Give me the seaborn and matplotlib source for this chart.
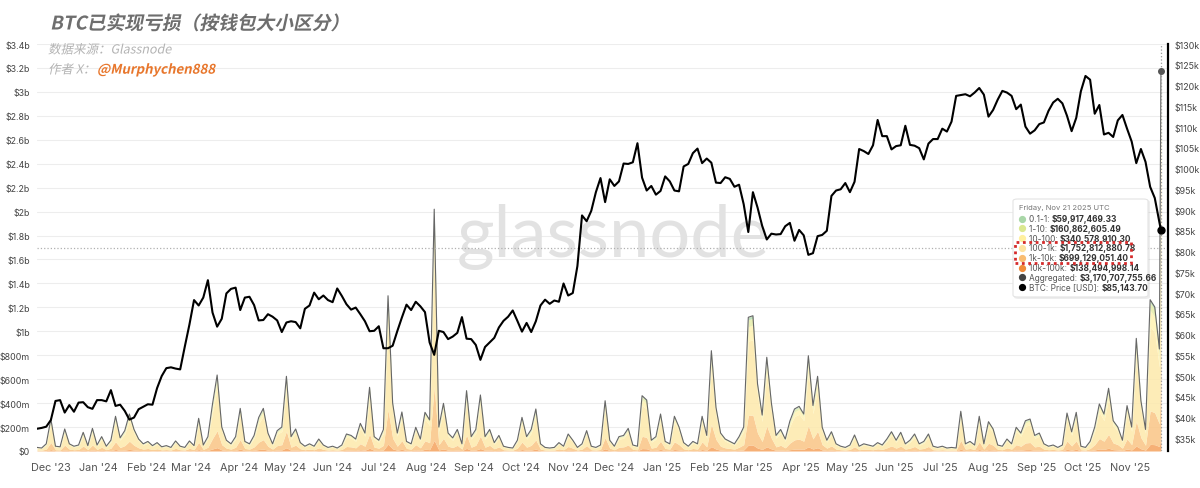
import pandas as pd
import matplotlib
matplotlib.use('Agg')
import matplotlib.pyplot as plt
import matplotlib.dates as mdates
import matplotlib.patheffects as pe
from matplotlib.patches import FancyBboxPatch, Rectangle
from matplotlib.lines import Line2D
from matplotlib.text import Annotation
from matplotlib.transforms import Affine2D
from matplotlib.ticker import FuncFormatter, MultipleLocator
import seaborn as sns

# --- data (3-day steps, last point = Nov 21 2025) ---
dates = list(pd.date_range('2023-11-22', '2025-11-20', freq='3D')) + [pd.Timestamp('2025-11-21')]

# BTC price, USD thousands
btc_price_k = [
    37.3, 37.5, 37.8,
    39.4, 44.0, 44.2, 41.2, 43.0, 41.4, 43.6, 43.7, 42.5, 42.1,
    44.2, 44.2, 43.9, 46.6, 42.8, 43.1, 41.6, 39.5, 40.0, 42.0, 42.6,
    43.2, 43.1, 47.1, 50.0, 51.9, 52.1, 51.8, 51.6, 57.1,
    62.4, 68.3, 67.0, 68.9, 73.1, 65.3, 61.9, 63.8, 69.9, 71.0, 71.3,
    65.9, 68.9, 69.1, 67.1, 63.4, 63.5, 64.9, 64.3, 63.4, 60.6,
    62.9, 63.2, 63.0, 61.5, 66.2, 67.0, 70.1, 68.5, 69.4, 68.3,
    67.8, 71.1, 69.3, 67.3, 66.0, 66.5, 64.9, 63.2, 60.8, 60.9,
    62.0, 56.7, 56.7, 57.3, 60.8, 64.1, 67.2, 65.9, 67.9, 66.8,
    65.4, 58.1, 55.1, 60.9, 60.6, 58.9, 59.5, 60.4, 64.2, 59.0, 58.9,
    57.5, 53.9, 57.0, 58.1, 59.2, 61.7, 63.3, 64.3, 65.8, 63.3,
    60.7, 62.8, 60.6, 63.2, 67.0, 68.4, 67.4, 68.2, 67.9, 72.3,
    69.4, 70.0, 76.5, 88.7, 87.3, 89.8, 94.3, 97.7, 91.9, 97.4,
    95.8, 96.9, 101.2, 101.1, 101.5, 106.1, 97.8, 94.7, 95.8, 93.7,
    94.6, 98.1, 96.9, 94.7, 94.5, 100.5, 101.1, 103.7, 104.8, 101.3, 102.4,
    101.4, 96.6, 96.5, 97.9, 97.5, 95.6, 96.1, 91.4, 84.7,
    94.3, 90.6, 86.2, 82.9, 84.3, 84.1, 84.2, 86.1, 86.9, 82.6,
    85.2, 83.9, 79.2, 79.6, 83.7, 84.0, 85.0, 93.4, 94.7, 95.0,
    96.5, 94.3, 96.8, 104.7, 104.2, 103.5, 105.6, 111.7, 107.8, 107.8, 104.6,
    105.4, 105.6, 110.3, 105.7, 105.5, 104.9, 102.2, 106.0, 107.1, 107.1,
    109.6, 108.9, 111.3, 117.5, 117.7, 117.9, 117.4, 118.3, 119.4, 117.8,
    112.5, 114.1, 116.6, 118.7, 118.3, 117.5, 114.3, 115.4, 110.1, 108.4,
    109.2, 110.7, 111.1, 113.9, 115.9, 116.8, 115.7, 112.7, 109.0, 112.2,
    118.6, 122.3, 121.4, 113.2, 115.3, 108.2, 108.6, 107.6, 111.6, 112.9, 109.6,
    106.5, 101.3, 104.7, 101.6, 95.6, 92.9, 87.0, 85.14,
]

# aggregated realized loss, USD millions
loss_agg_m = [
    30, 25, 60, 267, 40, 35, 184, 60, 40, 50,
    156, 45, 189, 50, 120, 40, 90, 290, 110, 170,
    309, 180, 100, 60, 80, 45, 70, 35, 45, 30,
    84, 40, 30, 84, 45, 273, 50, 120, 393, 635,
    200, 90, 60, 120, 356, 80, 60, 130, 280, 356,
    150, 60, 170, 200, 624, 120, 184, 70, 40, 60,
    40, 100, 50, 30, 40, 25, 50, 142, 130, 100,
    231, 150, 532, 120, 90, 180, 1297, 400, 150, 326,
    80, 60, 198, 100, 323, 260, 2020, 200, 398, 150,
    110, 180, 60, 504, 120, 180, 468, 120, 180, 70,
    130, 40, 30, 25, 90, 281, 120, 180, 351, 60,
    30, 25, 30, 70, 40, 142, 90, 30, 60, 170,
    40, 30, 50, 420, 90, 40, 120, 130, 189, 50,
    40, 462, 426, 90, 120, 309, 80, 60, 290, 200,
    70, 40, 80, 60, 290, 130, 838, 365, 150, 100,
    80, 60, 120, 200, 1117, 1130, 560, 300, 783, 400,
    130, 180, 100, 250, 351, 373, 309, 796, 380, 624,
    198, 90, 161, 60, 40, 30, 50, 134, 40, 60,
    50, 40, 70, 50, 100, 161, 90, 156, 60, 90,
    142, 60, 80, 142, 40, 30, 40, 25, 30, 25,
    332, 60, 80, 50, 290, 60, 245, 184, 50, 40,
    100, 60, 198, 150, 253, 267, 130, 150, 60, 40,
    50, 30, 50, 317, 160, 323, 40, 30, 80, 200,
    393, 309, 524, 253, 200, 90, 379, 200, 941, 420,
    180, 1264, 1203, 852, 3170.7,
]

# cohort mix shown in the tooltip for Nov 21 2025 (USD millions), bottom -> top of stack
cohorts = ['10k-100k', '1k-10k', '100-1k', '10-100', '1-10', '0.1-1']
cohort_nov21_m = [138.49, 699.13, 1752.81, 340.58, 160.86, 59.92]
cohort_colors = ['#f5a35e', '#fac585', '#fde9ab', '#fff3b3', '#e6edaa', '#b5dcb2']

tooltip_rows = [
    ('0.1-1: ', '$59,917,469.33', '#a9d7a8'),
    ('1-10: ', '$160,862,605.49', '#dbe890'),
    ('10-100: ', '$340,578,910.30', '#fff0a0'),
    ('100-1k: ', '$1,752,812,880.78', '#fde3a0'),
    ('1k-10k: ', '$699,129,051.40', '#f9bd72'),
    ('10k-100k: ', '$138,494,998.14', '#f08c3a'),
    ('Aggregated: ', '$3,170,707,755.66', '#444444'),
    ('BTC: Price [USD]: ', '$85,143.70', '#000000'),
]

CJK = ['Noto Sans CJK SC', 'DejaVu Sans']


class Slant(pe.AbstractPathEffect):
    # fake italic for the CJK title
    def __init__(self, deg=12):
        super().__init__()
        self.deg = deg

    def draw_path(self, renderer, gc, tpath, affine, rgbFace=None):
        renderer.draw_path(gc, tpath, Affine2D().skew_deg(self.deg, 0) + affine, rgbFace)


W, H = 1200, 489


def fx(x):
    return x / W


def fy(y):
    return 1 - y / H


sns.set_theme(style='white')
plt.rcParams['font.family'] = ['Inter', 'DejaVu Sans']

fig = plt.figure(figsize=(12, 4.89), dpi=100)
fig.patch.set_facecolor('white')
ax = fig.add_axes([fx(37), fy(452), fx(1168) - fx(37), fy(45) - fy(452)])
ax2 = ax.twinx()
ax.patch.set_visible(False)
ax2.patch.set_visible(False)

# stacked realized loss by cohort
total_nov21 = sum(cohort_nov21_m)
layers = [[v * c / total_nov21 for v in loss_agg_m] for c in cohort_nov21_m]
ax.stackplot(dates, layers, colors=cohort_colors, alpha=0.85, lw=0, zorder=2)
sns.lineplot(x=dates, y=loss_agg_m, ax=ax, color='#666666', lw=0.8, zorder=3)

# BTC price
sns.lineplot(x=dates, y=btc_price_k, ax=ax2, color='black', lw=1.5, zorder=4)

x0 = pd.Timestamp('2023-11-22')
x1 = pd.Timestamp('2025-11-21') + pd.Timedelta(days=4.6)
ax.set_xlim(x0, x1)
ax.set_ylim(0, 3400)
ax2.set_ylim(31.94, 130)

# crosshair + hover markers
ax.axvline(dates[-1], color='#9a9a9a', ls=':', lw=0.9, zorder=3)
ax.axhline(1700, color='#b0b0b0', ls=':', lw=0.9, zorder=3)
ax.plot([dates[-1]], [loss_agg_m[-1]], 'o', color='#555555', ms=4, zorder=6)
ax2.plot([dates[-1]], [btc_price_k[-1]], 'o', color='black', ms=5, zorder=6)

# axes styling
ax.yaxis.set_major_locator(MultipleLocator(200))
ax2.yaxis.set_major_locator(MultipleLocator(5))


def fmt_loss(v, pos):
    if v == 0:
        return '$0'
    if v < 1000:
        return f'${v:.0f}m'
    return f'${v / 1000:g}b'


ax.yaxis.set_major_formatter(FuncFormatter(fmt_loss))
ax2.yaxis.set_major_formatter(FuncFormatter(lambda v, p: f'${v:g}k'))
ax.xaxis.set_major_locator(mdates.MonthLocator())
ax.xaxis.set_major_formatter(mdates.DateFormatter("%b '%y"))

ax.tick_params(axis='x', length=0, labelsize=7.8, colors='#555555', pad=8)
ax.tick_params(axis='y', length=0, labelsize=6.4, colors='#444444', pad=5)
ax2.tick_params(axis='y', length=0, labelsize=6.4, colors='#444444', pad=4.5)
ax.grid(axis='y', color='#ededed', lw=0.8)
ax.grid(axis='x', visible=False)
ax.set_axisbelow(True)
for s in ax.spines.values():
    s.set_visible(False)
for k, s in ax2.spines.items():
    s.set_visible(k == 'right')
ax2.spines['right'].set_color('black')
ax2.spines['right'].set_linewidth(1.6)
ax.set_xlabel('')
ax.set_ylabel('')
ax2.set_ylabel('')

# watermark
ax.text(fx(613), fy(257), 'glassnode', transform=fig.transFigure, ha='center', va='baseline',
        fontsize=52, color='#e2e2e2', family=['Lato', 'DejaVu Sans'], zorder=1)

# titles
fig.text(fx(50), fy(25), 'BTC已实现亏损（按钱包大小区分）', fontsize=13.5, fontweight='bold',
         color='#6e6e6e', family=CJK, va='center', path_effects=[Slant()])
fig.text(fx(48), fy(51), '数据来源：Glassnode', fontsize=9, color='#b3b3b3', family=CJK,
         va='center', path_effects=[Slant()])
fig.text(fx(48), fy(71), '作者 X：', fontsize=9, color='#b3b3b3', family=CJK,
         va='center', path_effects=[Slant()])
fig.text(fx(97), fy(71), '@Murphychen888', fontsize=9.5, fontweight='bold', color='#e8762b',
         family=CJK, va='center', path_effects=[Slant()])

# tooltip
shadow = FancyBboxPatch((fx(1014), fy(300)), fx(136), fy(201) - fy(300),
                        boxstyle='round,pad=0,rounding_size=0.004', transform=fig.transFigure,
                        fc='black', ec='none', alpha=0.07, zorder=8)
box = FancyBboxPatch((fx(1013), fy(298)), fx(135), fy(200) - fy(298),
                     boxstyle='round,pad=0,rounding_size=0.004', transform=fig.transFigure,
                     fc='white', ec='#e4e4e4', lw=0.8, zorder=9)
fig.add_artist(shadow)
fig.add_artist(box)
fig.text(fx(1019), fy(208), 'Friday, Nov 21 2025 UTC', fontsize=5.5, color='#777777',
         va='center', zorder=10)
for n, (lab, val, col) in enumerate(tooltip_rows):
    yy = 219.5 + n * 9.8
    fig.add_artist(Line2D([fx(1022)], [fy(yy)], marker='o', ms=4.2, color=col, lw=0,
                          transform=fig.transFigure, zorder=10))
    t = fig.text(fx(1029), fy(yy), lab, fontsize=6, color='#555555', va='center', zorder=10)
    a = Annotation(val, xy=(1, 0), xycoords=t, va='bottom', ha='left', fontsize=6,
                   fontweight='bold', color='#333333', annotation_clip=False)
    a.set_zorder(10)
    fig.add_artist(a)

hl = Rectangle((fx(1015), fy(264)), fx(1131) - fx(1015), fy(242.5) - fy(264),
               transform=fig.transFigure, fill=False, ec='#d52b2b', lw=2,
               ls=(0, (1, 1.3)), zorder=11)
fig.add_artist(hl)

fig.savefig('out.png', dpi=100, facecolor='white')
